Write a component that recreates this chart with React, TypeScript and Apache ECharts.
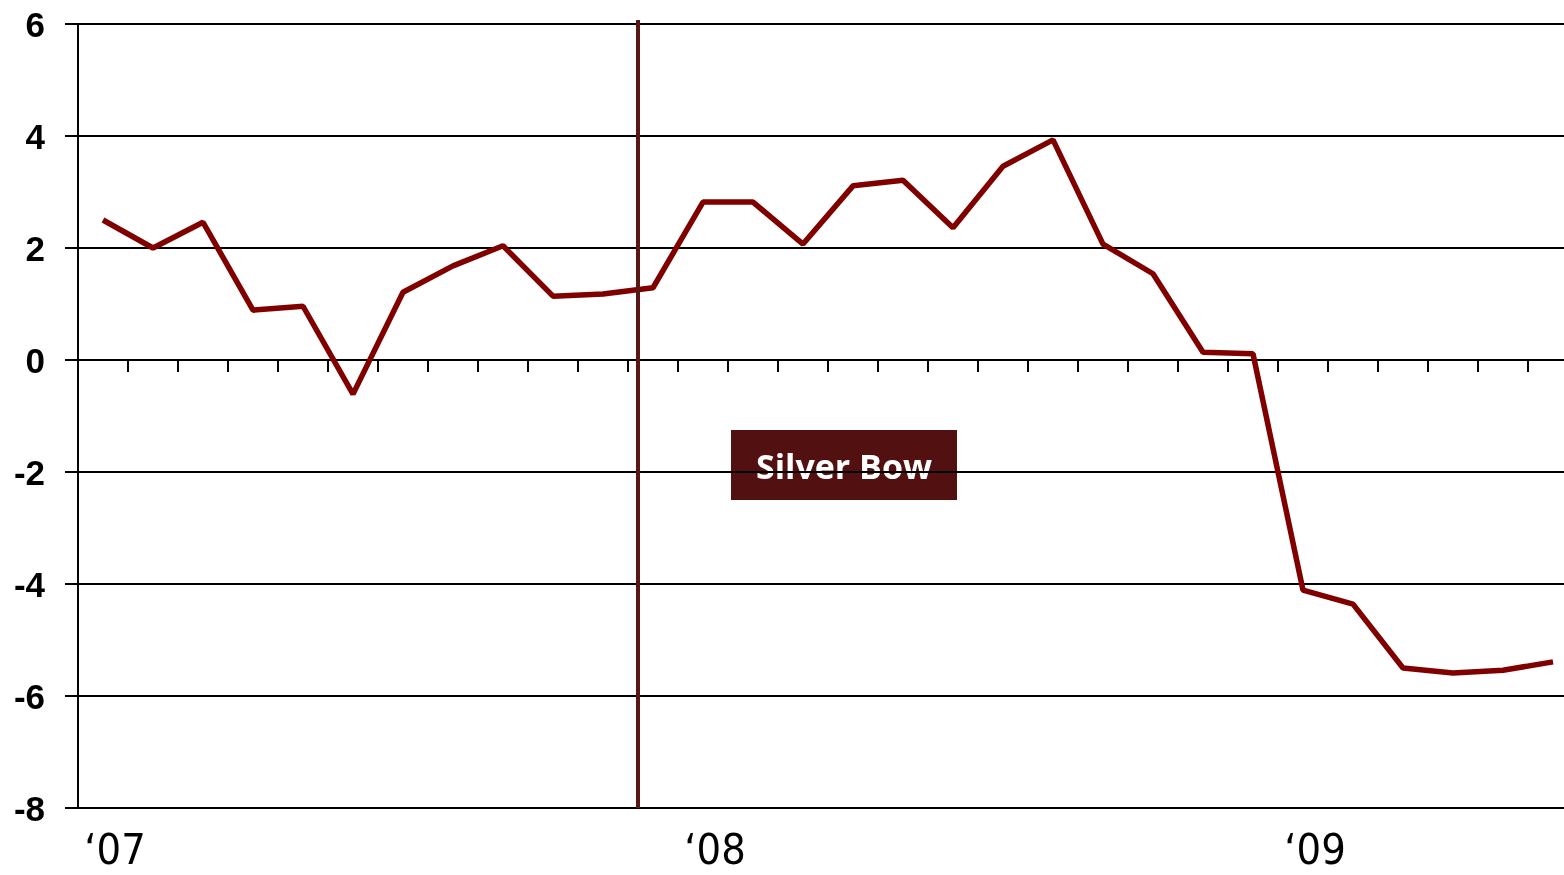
import React, { useEffect, useRef } from "react";
import * as echarts from "echarts";

const months: string[] = [
  "Jan 07", "Feb 07", "Mar 07", "Apr 07", "May 07", "Jun 07", "Jul 07", "Aug 07", "Sep 07", "Oct 07", "Nov 07", "Dec 07",
  "Jan 08", "Feb 08", "Mar 08", "Apr 08", "May 08", "Jun 08", "Jul 08", "Aug 08", "Sep 08", "Oct 08", "Nov 08", "Dec 08",
  "Jan 09", "Feb 09", "Mar 09", "Apr 09", "May 09", "Jun 09",
];

const silverBow: number[] = [
  2.5, 2.0, 2.46, 0.89, 0.96, -0.61, 1.21, 1.68, 2.04, 1.14, 1.18, 1.29,
  2.82, 2.82, 2.07, 3.11, 3.21, 2.36, 3.46, 3.93, 2.07, 1.54, 0.14, 0.11,
  -4.11, -4.36, -5.5, -5.59, -5.54, -5.39,
];

const yearLabels: string[] = ["\u201807", "\u201808", "\u201809"];

const markerX = 11.2; // position of vertical marker (in months from Jan 07)
const markerY: number[] = [-8, 6.07];

const yTicks = { min: -8, max: 6, interval: 2 };

export default function App() {
  const ref = useRef<HTMLDivElement>(null);
  useEffect(() => {
    if (!ref.current) return;
    const chart = echarts.init(ref.current, undefined, { renderer: "svg" });
    chart.setOption({
      animation: false,
      grid: { left: 78, top: 24, bottom: 67, right: -14, containLabel: false, outerBoundsMode: "none" },
      xAxis: [
        {
          type: "category",
          data: months,
          boundaryGap: true,
          axisLine: { onZero: true, lineStyle: { color: "#000", width: 2 } },
          axisTick: { show: true, interval: 0, length: 12, lineStyle: { color: "#000", width: 2 } },
          axisLabel: { show: false },
          splitLine: { show: false },
        },
        {
          type: "category",
          data: months,
          position: "bottom",
          boundaryGap: true,
          axisLine: { show: false, onZero: false },
          axisTick: { show: false },
          axisLabel: {
            interval: 0,
            margin: 19,
            fontFamily: "'Liberation Sans Narrow', 'DejaVu Sans Condensed', 'Liberation Sans', sans-serif",
            fontSize: 43,
            color: "#000",
            padding: [0, 0, 0, 24],
            formatter: (_v: string, i: number) => (i % 12 === 0 ? yearLabels[i / 12] : ""),
          },
          splitLine: { show: false },
        },
        {
          type: "value",
          min: 0,
          max: 30,
          show: false,
          splitLine: { show: false },
        },
      ],
      yAxis: {
        type: "value",
        min: yTicks.min,
        max: yTicks.max,
        interval: yTicks.interval,
        axisLine: { show: true, lineStyle: { color: "#000", width: 2 } },
        axisTick: { show: true, length: 13, lineStyle: { color: "#000", width: 2 } },
        axisLabel: {
          margin: 33,
          fontFamily: "'Liberation Sans', Arial, sans-serif",
          fontWeight: "bold",
          fontSize: 35,
          color: "#000",
        },
        splitLine: { show: true, lineStyle: { color: "#000", width: 2 } },
      },
      series: [
        {
          type: "line",
          name: "Silver Bow",
          xAxisIndex: 0,
          data: silverBow,
          showSymbol: false,
          symbol: "none",
          lineStyle: { color: "#800000", width: 5.5 },
          z: 3,
        },
        {
          type: "line",
          xAxisIndex: 2,
          data: markerY.map((y) => [markerX, y]),
          showSymbol: false,
          symbol: "none",
          clip: false,
          lineStyle: { color: "#5a1515", width: 4 },
          z: 4,
        },
      ],
      graphic: [
        {
          type: "group",
          left: 731,
          top: 430,
          children: [
            { type: "rect", shape: { x: 0, y: 0, width: 226, height: 70 }, style: { fill: "#531010" } },
            {
              type: "text",
              x: 113,
              y: 36,
              style: {
                text: "Silver Bow",
                fill: "#fff",
                font: "bold 34px 'Open Sans', sans-serif",
                align: "center",
                verticalAlign: "middle",
              },
            },
          ],
        },
      ],
    });
    return () => chart.dispose();
  }, []);
  return <div ref={ref} style={{ position: "fixed", left: 0, top: 0, width: 1564, height: 875 }} />;
}
